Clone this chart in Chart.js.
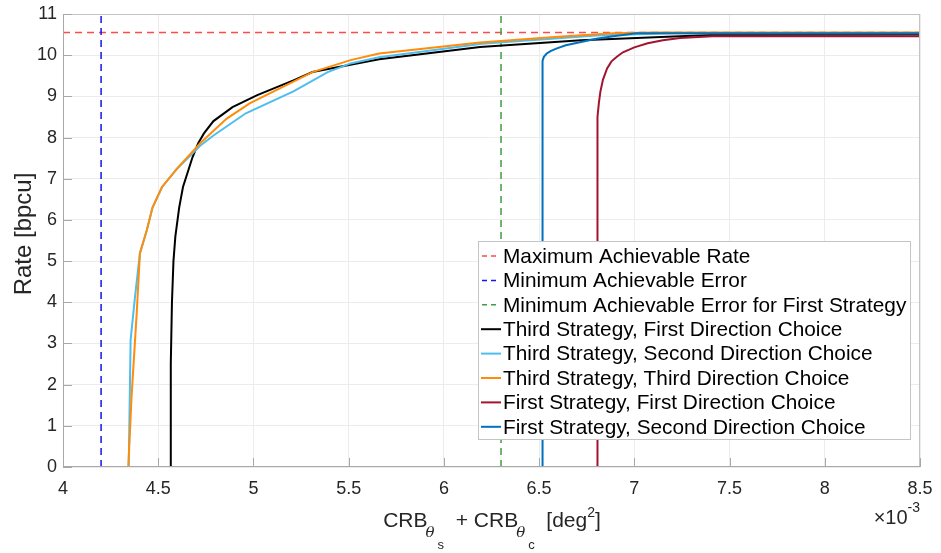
<!DOCTYPE html>
<html>
<head>
<meta charset="utf-8">
<script src="https://cdn.jsdelivr.net/npm/chart.js@4"></script>
<style>
  body { margin: 0; background: #fff; }
  canvas { display: block; }
</style>
</head>
<body>
<canvas id="cnv_rate_chart" width="941" height="553"></canvas>
<script>
// reference limits
const maxRate = 10.55
const minError = 4.2
const minErrorFirst = 6.3

// third strategy, first direction choice
const thirdFirstX = [4.563, 4.566, 4.572, 4.58, 4.59, 4.61, 4.63, 4.68, 4.71, 4.74, 4.79, 4.89, 5.02, 5.21, 5.31, 5.66, 6.19, 6.72, 7.4, 8.5]
const thirdFirstY = [0, 2.5, 3.98, 5.0, 5.6, 6.3, 6.8, 7.52, 7.86, 8.1, 8.4, 8.74, 9.03, 9.39, 9.59, 9.9, 10.2, 10.36, 10.49, 10.5]
// third strategy, second direction choice
const thirdSecondX = [4.345, 4.348, 4.355, 4.378, 4.404, 4.44, 4.47, 4.52, 4.6, 4.72, 4.79, 4.96, 5.21, 5.39, 5.51, 5.66, 6.2, 6.8, 7.2, 8.5]
const thirdSecondY = [0, 0.9, 3.08, 4.13, 5.19, 5.75, 6.3, 6.8, 7.25, 7.8, 8.05, 8.59, 9.12, 9.59, 9.8, 9.95, 10.28, 10.48, 10.53, 10.53]
// third strategy, third direction choice
const thirdThirdX = [4.343, 4.36, 4.387, 4.404, 4.44, 4.47, 4.52, 4.6, 4.72, 4.86, 4.98, 5.12, 5.31, 5.51, 5.66, 6.19, 6.6, 6.89, 7.1, 8.5]
const thirdThirdY = [0, 1.71, 3.73, 5.19, 5.75, 6.3, 6.8, 7.25, 7.86, 8.46, 8.83, 9.15, 9.59, 9.88, 10.04, 10.31, 10.45, 10.53, 10.55, 10.55]
// first strategy, first direction choice
const firstFirstX = [6.805, 6.805, 6.808, 6.814, 6.822, 6.835, 6.857, 6.88, 6.91, 6.94, 7.0, 7.07, 7.15, 7.24, 7.41, 8.5]
const firstFirstY = [0, 7.8, 8.5, 8.85, 9.12, 9.4, 9.68, 9.85, 9.97, 10.07, 10.19, 10.29, 10.36, 10.42, 10.46, 10.46]
// first strategy, second direction choice
const firstSecondX = [6.517, 6.517, 6.519, 6.525, 6.54, 6.56, 6.59, 6.64, 6.72, 6.8, 6.89, 7.01, 8.5]
const firstSecondY = [0, 9.7, 9.86, 9.96, 10.04, 10.1, 10.16, 10.24, 10.32, 10.4, 10.46, 10.53, 10.53]

const xTicksStep = 0.5
const yTicksStep = 1

const toPoints = (xs, ys) => xs.map((x, i) => ({ x: x, y: ys[i] }))

const series = [
    { label: 'Maximum Achievable Rate', color: '#ff4a4a', dash: true, data: [{ x: 4, y: maxRate }, { x: 8.5, y: maxRate }] },
    { label: 'Minimum Achievable Error', color: '#1414f0', dash: true, data: [{ x: minError, y: 0 }, { x: minError, y: 11 }] },
    { label: 'Minimum Achievable Error for First Strategy', color: '#3f9e3f', dash: true, data: [{ x: minErrorFirst, y: 0 }, { x: minErrorFirst, y: 11 }] },
    { label: 'Third Strategy, First Direction Choice', color: '#000000', data: toPoints(thirdFirstX, thirdFirstY) },
    { label: 'Third Strategy, Second Direction Choice', color: '#4dbeee', data: toPoints(thirdSecondX, thirdSecondY) },
    { label: 'Third Strategy, Third Direction Choice', color: '#ff8c0a', data: toPoints(thirdThirdX, thirdThirdY) },
    { label: 'First Strategy, First Direction Choice', color: '#a2142f', data: toPoints(firstFirstX, firstFirstY) },
    { label: 'First Strategy, Second Direction Choice', color: '#0072bd', data: toPoints(firstSecondX, firstSecondY) },
]

const FONT = '"Liberation Sans", Arial, Helvetica, sans-serif'

// axes box, inner ticks, titles and legend in MATLAB style
const matlabDecor = {
    id: 'matlabDecor',
    afterDraw(chart) {
        const ctx = chart.ctx
        const { left, right, top, bottom } = chart.chartArea
        const xs = chart.scales.x, ys = chart.scales.y
        ctx.save()

        // box
        ctx.strokeStyle = '#c4c4c4'
        ctx.lineWidth = 1
        ctx.strokeRect(left + 0.5, top + 0.5, right - left - 1, bottom - top - 1)
        ctx.strokeStyle = '#a8a8a8'
        ctx.beginPath()
        ctx.moveTo(left + 0.5, top); ctx.lineTo(left + 0.5, bottom)
        ctx.moveTo(left, bottom - 0.5); ctx.lineTo(right, bottom - 0.5)
        ctx.stroke()

        // inner tick marks
        ctx.beginPath()
        xs.ticks.forEach(t => {
            const px = Math.round(xs.getPixelForValue(t.value)) + 0.5
            ctx.moveTo(px, bottom); ctx.lineTo(px, bottom - 9)
        })
        ys.ticks.forEach(t => {
            const py = Math.round(ys.getPixelForValue(t.value)) + 0.5
            ctx.moveTo(left, py); ctx.lineTo(left + 9, py)
        })
        ctx.stroke()

        // y title
        ctx.fillStyle = '#262626'
        ctx.save()
        ctx.translate(24, 234)
        ctx.rotate(-Math.PI / 2)
        ctx.font = '24px ' + FONT
        ctx.textAlign = 'center'
        ctx.textBaseline = 'middle'
        ctx.fillText('Rate [bpcu]', 0, 0)
        ctx.restore()

        // x title: CRB_{θ_s} + CRB_{θ_c} [deg^2]
        const parts = [
            { t: 'CRB', f: '21px ' + FONT, dy: 0 },
            { t: 'θ', f: 'italic 15px "DejaVu Serif", serif', dy: 10, gap: -2 },
            { t: 's', f: '13px ' + FONT, dy: 22, gap: 3 },
            { t: '  + CRB', f: '21px ' + FONT, dy: 0 },
            { t: 'θ', f: 'italic 15px "DejaVu Serif", serif', dy: 10, gap: -2 },
            { t: 'c', f: '13px ' + FONT, dy: 22, gap: 3 },
            { t: '  [deg', f: '21px ' + FONT, dy: 0 },
            { t: '2', f: '14px ' + FONT, dy: -10 },
            { t: ']', f: '21px ' + FONT, dy: 0 },
        ]
        let total = 0
        parts.forEach(p => { ctx.font = p.f; p.w = ctx.measureText(p.t).width; total += p.w + (p.gap || 0) })
        let cx = 492 - total / 2
        ctx.textAlign = 'left'
        ctx.textBaseline = 'alphabetic'
        parts.forEach(p => {
            ctx.font = p.f
            cx += (p.gap || 0)
            ctx.fillText(p.t, cx, 527 + p.dy)
            cx += p.w
        })

        // exponent label
        ctx.font = '14px ' + FONT
        const expW = ctx.measureText('-3').width
        ctx.fillText('-3', right - expW, 512)
        ctx.font = '20px ' + FONT
        ctx.textAlign = 'right'
        ctx.fillText('×10', right - expW, 524)

        // legend
        const lx = 478, ly = 241, lw = 432, lh = 198, rowH = 24.4
        ctx.fillStyle = '#ffffff'
        ctx.fillRect(lx, ly, lw, lh)
        ctx.strokeStyle = '#c4c4c4'
        ctx.lineWidth = 1
        ctx.strokeRect(lx + 0.5, ly + 0.5, lw, lh)
        ctx.font = '20.8px ' + FONT
        ctx.textAlign = 'left'
        ctx.textBaseline = 'middle'
        series.forEach((s, i) => {
            const y = ly + 15 + i * rowH
            ctx.strokeStyle = s.color
            ctx.beginPath()
            if (s.dash) {
                ctx.lineWidth = 1.5
                ctx.setLineDash([5, 4])
                ctx.moveTo(482, y); ctx.lineTo(500, y)
            } else {
                ctx.lineWidth = 2
                ctx.setLineDash([])
                ctx.moveTo(481, y); ctx.lineTo(501, y)
            }
            ctx.stroke()
            ctx.setLineDash([])
            ctx.fillStyle = '#000000'
            ctx.fillText(s.label, 503, y + 1)
        })
        ctx.restore()
    }
}

const ctx = document.getElementById('cnv_rate_chart').getContext('2d')
const myChart = new Chart(ctx, {
    type: 'scatter',
    plugins: [matlabDecor],
    data: {
        datasets: series.map((s, i) => ({
            label: s.label,
            data: s.data,
            showLine: true,
            borderColor: s.color,
            backgroundColor: s.color,
            borderWidth: s.dash ? 1.5 : 2,
            borderDash: s.dash ? [7, 5] : [],
            pointRadius: 0,
            tension: 0,
            order: -i
        }))
    },
    options: {
        responsive: false,
        animation: false,
        devicePixelRatio: 1,
        layout: { padding: { top: 14, right: 21, left: 0, bottom: 0 } },
        plugins: {
            legend: { display: false },
            tooltip: { enabled: false }
        },
        scales: {
            x: {
                type: 'linear',
                min: 4,
                max: 8.5,
                // fixed axis band; edge labels may overhang the padding
                afterFit: scale => {
                    scale.height = 86
                    scale.paddingLeft = 0
                    scale.paddingRight = 0
                },
                ticks: {
                    stepSize: xTicksStep,
                    padding: 11,
                    color: '#262626',
                    font: { family: FONT, size: 18 },
                    callback: value => String(value)
                },
                grid: { color: '#ececec', drawTicks: false },
                border: { display: false }
            },
            y: {
                min: 0,
                max: 11,
                afterFit: scale => {
                    scale.width = 63
                    scale.paddingTop = 0
                    scale.paddingBottom = 0
                },
                ticks: {
                    stepSize: yTicksStep,
                    padding: 6,
                    color: '#262626',
                    font: { family: FONT, size: 18 }
                },
                grid: { color: '#ececec', drawTicks: false },
                border: { display: false }
            }
        }
    }
})
</script>
</body>
</html>
